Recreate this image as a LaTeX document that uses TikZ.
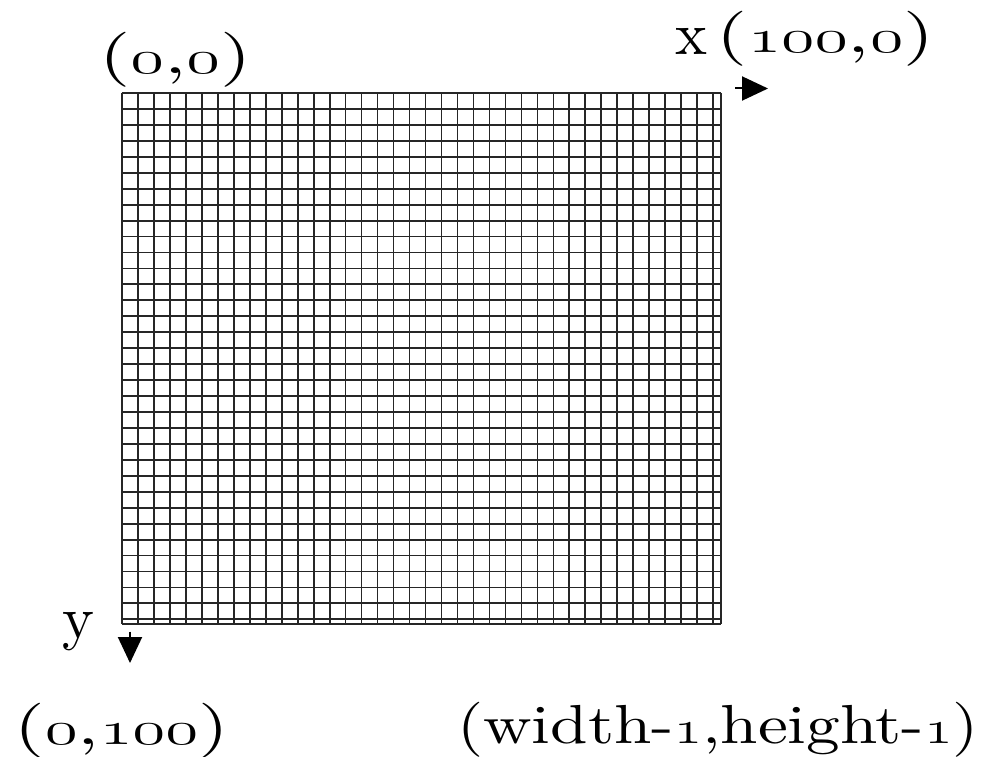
\documentclass[tikz,border=0pt]{standalone}
\usetikzlibrary{arrows.meta}
\font\lblrm="[lmroman10-regular]" at 41.25pt
\newcommand\osf[1]{\scalebox{1.42}{\usefont{OML}{lmm}{m}{it}#1}}
\tikzset{
  lbl/.style={anchor=base west, inner sep=0pt, font=\fontsize{41.25}{48}\selectfont\lblrm},
  gridline/.style={line width=1.4pt, draw=black!85},
  axisarrow/.style={line width=1.5pt, -{Triangle[length=19.5pt,width=18pt]}}
}
\begin{document}
\begin{tikzpicture}[x=0.75pt,y=-0.75pt]
\useasboundingbox (0,0) rectangle (987,756);
% grid
\foreach \k in {0,...,37} \draw[gridline] ({121.7+15.99*\k},93) -- ({121.7+15.99*\k},623.7);
\draw[gridline] (721,93) -- (721,623.7);
\foreach \k in {0,...,33} \draw[gridline] (121.7,{93+15.95*\k}) -- (721,{93+15.95*\k});
\draw[gridline] (121.7,623.7) -- (721,623.7);
% labels
\node[lbl] (origin) at (99,74) {\resizebox{114pt}{\height}{(\osf{0},\osf{0})}};
\node[lbl] (xlab) at (675,55) {\scalebox{1.1}{x}};
\node[lbl] (xend) at (716.7,53) {\resizebox{163pt}{\height}{(\osf{100},\osf{0})}};
\node[lbl] (ylab) at (62,638) {\scalebox{1.1}{y}};
\node[lbl] (yend) at (14,744) {\resizebox{161pt}{\height}{(\osf{0},\osf{100})}};
\node[lbl] (corner) at (457,743) {\resizebox{391pt}{\height}{(width-\osf{1},height-\osf{1})}};
% axis arrows
\coordinate (xa0) at (735,88.5);
\coordinate (xa1) at (768,88.5);
\draw[axisarrow] (xa0) -- (xa1);
\coordinate (ya0) at (130,631.5);
\coordinate (ya1) at (130,663);
\draw[axisarrow] (ya0) -- (ya1);
\end{tikzpicture}
\end{document}
